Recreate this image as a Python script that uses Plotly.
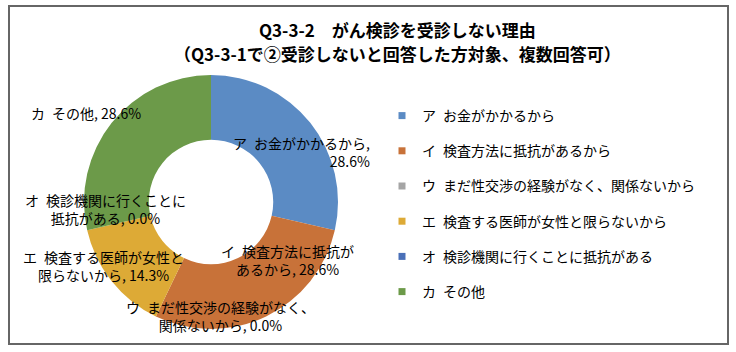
import math
import plotly.graph_objects as go

# ---- data ----
categories = [
    "ア\u2002お金がかかるから",
    "イ\u2002検査方法に抵抗があるから",
    "ウ\u2002まだ性交渉の経験がなく、関係ないから",
    "エ\u2002検査する医師が女性と限らないから",
    "オ\u2002検診機関に行くことに抵抗がある",
    "カ\u2002その他",
]
values = [28.6, 28.6, 0.0, 14.3, 0.0, 28.6]
colors = ["#5B8BC4", "#C87239", "#A5A5A5", "#DDAA36", "#4A70B8", "#6C9A49"]
# label wrapping (character index of the line break in each data label)
label_break = [12, 10, 14, 12, 12, None]
label_align = ["right", "center", "center", "center", "center", "center"]
# label offsets (px) from the mid-ring point of each slice
label_dx = [17, 35, 51, -34, -13, -51]
label_dy = [9, -27, 29, 5, -14, -30]

title_lines = [
    "Q3-3-2\u3000がん検診を受診しない理由",
    "（Q3-3-1で②受診しないと回答した方対象、複数回答可）",
]

W, H = 736, 352
FONT = "Noto Sans CJK JP"

# donut geometry in pixels
cx, cy, R = 211, 202, 127
hole = 0.49

fig = go.Figure()
fig.add_trace(go.Pie(
    labels=categories,
    values=values,
    sort=False,
    direction="clockwise",
    rotation=0,
    hole=hole,
    marker=dict(colors=colors, line=dict(width=0)),
    textinfo="none",
    hoverinfo="label+percent",
    showlegend=False,
    domain=dict(x=[(cx - R) / W, (cx + R) / W],
                y=[(H - cy - R) / H, (H - cy + R) / H]),
))

# legend entries
for i, (cat, col) in enumerate(zip(categories, colors)):
    fig.add_trace(go.Scatter(
        x=[None], y=[None], mode="markers",
        marker=dict(symbol="square", size=7, color=col),
        name=cat, legendgroup=str(i), showlegend=True,
    ))

# data labels placed from the slice angles
total = sum(values)
cum = 0.0
r_lab = (1 + hole) / 2 * R
for i, (cat, v) in enumerate(zip(categories, values)):
    mid = (cum + v / 2) / total * 2 * math.pi
    cum += v
    px = cx + r_lab * math.sin(mid)
    py = cy - r_lab * math.cos(mid)
    txt = f"{cat}, {v:.1f}%"
    b = label_break[i]
    if b is not None:
        head, tail = txt[:b], txt[b:]
        txt = head.rstrip() + "<br>" + tail.lstrip()
    fig.add_annotation(
        x=px / W, y=1 - py / H, xref="paper", yref="paper",
        xanchor="center", yanchor="middle",
        text=txt, showarrow=False, align=label_align[i],
        xshift=label_dx[i], yshift=-label_dy[i],
        font=dict(family=FONT, size=14, color="#000000"),
    )

# title (two lines)
for line, ypx in zip(title_lines, [30, 53]):
    fig.add_annotation(
        x=397 / W, y=1 - ypx / H, xref="paper", yref="paper",
        xanchor="center", yanchor="middle",
        text=f"<b>{line}</b>", showarrow=False, align="center",
        font=dict(family=FONT, size=17, color="#000000"),
    )

# chart border
fig.add_shape(type="rect", xref="paper", yref="paper",
              x0=9 / W, x1=728 / W, y0=1 - 344 / H, y1=1 - 6 / H,
              line=dict(color="#666666", width=2), fillcolor="rgba(0,0,0,0)")

fig.update_layout(
    width=W, height=H,
    margin=dict(l=0, r=0, t=0, b=0),
    paper_bgcolor="white", plot_bgcolor="white",
    font=dict(family=FONT, size=14, color="#000000"),
    xaxis=dict(visible=False), yaxis=dict(visible=False),
    legend=dict(x=382 / W, y=1 - 100 / H, xanchor="left", yanchor="top",
                font=dict(family=FONT, size=14, color="#000000"),
                tracegroupgap=14, bgcolor="rgba(0,0,0,0)"),
)

fig.write_html("out.html")
